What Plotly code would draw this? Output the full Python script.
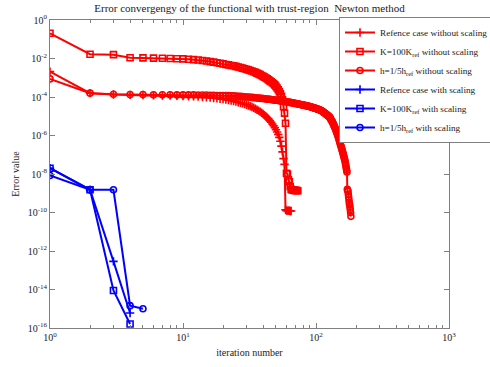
import plotly.graph_objects as go

# ---- data: log10 of the error value at iteration 1, 2, 3, ... ----
ref_noscale_log10 = [
    -2.68, -3.80, -3.87, -3.89, -3.90, -3.91, -3.92, -3.93, -3.94, -3.95,
    -3.96, -3.97, -3.98, -4.00, -4.01, -4.03, -4.05, -4.07, -4.09, -4.11,
    -4.13, -4.16, -4.18, -4.21, -4.24, -4.27, -4.30, -4.33, -4.37, -4.40,
    -4.44, -4.48, -4.52, -4.56, -4.61, -4.66, -4.71, -4.76, -4.82, -4.88,
    -4.94, -5.01, -5.08, -5.15, -5.23, -5.31, -5.40, -5.49, -5.59, -5.70,
    -5.82, -5.95, -6.10, -6.30, -6.55, -6.85, -7.20, -7.50, -9.86, -9.90,
    -9.90, -9.90, -9.91, -9.92, -9.92,
]

k100_noscale_log10 = [
    -0.69, -1.78, -1.80, -1.96, -1.97, -1.98, -1.99, -2.00, -2.01, -2.02,
    -2.04, -2.06, -2.08, -2.10, -2.13, -2.16, -2.19, -2.22, -2.25, -2.28,
    -2.31, -2.33, -2.36, -2.38, -2.41, -2.44, -2.47, -2.50, -2.53, -2.56,
    -2.59, -2.62, -2.65, -2.69, -2.72, -2.76, -2.80, -2.84, -2.88, -2.93,
    -2.97, -3.01, -3.06, -3.11, -3.16, -3.21, -3.26, -3.31, -3.37, -3.45,
    -3.53, -3.62, -3.72, -3.83, -3.96, -4.15, -4.50, -4.84, -5.36, -7.96,
    -8.00, -8.30, -8.40, -8.65, -8.80, -8.82, -8.83, -8.84, -8.85, -8.85,
    -8.86, -8.86, -8.87,
]

h5_noscale_log10 = [
    -3.06, -3.80, -3.86, -3.87, -3.87, -3.88, -3.88, -3.88, -3.89, -3.89,
    -3.89, -3.89, -3.90, -3.90, -3.90, -3.91, -3.91, -3.92, -3.92, -3.93,
    -3.93, -3.93, -3.94, -3.94, -3.95, -3.96, -3.97, -3.98, -3.99, -4.00,
    -4.00, -4.01, -4.02, -4.03, -4.04, -4.05, -4.06, -4.07, -4.07, -4.08,
    -4.09, -4.10, -4.11, -4.12, -4.12, -4.13, -4.14, -4.15, -4.16, -4.17,
    -4.17, -4.18, -4.19, -4.20, -4.21, -4.22, -4.23, -4.23, -4.24, -4.25,
    -4.26, -4.27, -4.28, -4.28, -4.29, -4.30, -4.31, -4.32, -4.33, -4.34,
    -4.34, -4.35, -4.36, -4.37, -4.38, -4.39, -4.39, -4.40, -4.41, -4.42,
    -4.43, -4.43, -4.44, -4.45, -4.46, -4.47, -4.47, -4.48, -4.49, -4.50,
    -4.51, -4.52, -4.53, -4.54, -4.55, -4.56, -4.57, -4.58, -4.59, -4.60,
    -4.61, -4.62, -4.63, -4.64, -4.65, -4.66, -4.67, -4.69, -4.70, -4.72,
    -4.73, -4.75, -4.77, -4.79, -4.81, -4.83, -4.85, -4.87, -4.89, -4.91,
    -4.93, -4.95, -4.97, -4.99, -5.01, -5.03, -5.06, -5.10, -5.14, -5.18,
    -5.22, -5.26, -5.30, -5.35, -5.40, -5.45, -5.50, -5.55, -5.60, -5.65,
    -5.70, -5.76, -5.82, -5.88, -5.94, -6.00, -6.06, -6.13, -6.20, -6.27,
    -6.34, -6.41, -6.48, -6.55, -6.61, -6.67, -6.74, -6.81, -6.88, -6.95,
    -7.02, -7.09, -7.16, -7.23, -7.30, -7.40, -7.50, -7.60, -7.70, -7.80,
    -7.90, -8.80, -8.85, -8.90, -9.05, -9.20, -9.35, -9.50, -9.60, -9.70,
    -9.85, -10.00, -10.20,
]

ref_scale_log10 = [-7.70, -8.82, -12.54, -15.22]
k100_scale_log10 = [-7.70, -8.82, -14.05, -15.79]
h5_scale_log10 = [-8.08, -8.82, -8.82, -14.84, -15.00]

series_names = [
    "Refence case without scaling",
    "K=100K<sub>ref</sub> without scaling",
    "h=1/5h<sub>ref</sub> without scaling",
    "Refence case with scaling",
    "K=100K<sub>ref</sub> with scaling",
    "h=1/5h<sub>ref</sub> with scaling",
]

x_tick_vals = [1, 10, 100, 1000]
x_tick_text = ["10<sup>0</sup>", "10<sup>1</sup>", "10<sup>2</sup>", "10<sup>3</sup>"]
y_tick_exps = [0, -2, -4, -6, -8, -10, -12, -14, -16]

# ---- figure ----
RED = "rgb(255,0,0)"
BLUE = "rgb(0,0,255)"
FONT = "Liberation Serif"
AXIS = "#808080"
TXT = "#222222"

series = [
    (ref_noscale_log10, RED, "cross-thin-open"),
    (k100_noscale_log10, RED, "square-open"),
    (h5_noscale_log10, RED, "circle-open"),
    (ref_scale_log10, BLUE, "cross-thin-open"),
    (k100_scale_log10, BLUE, "square-open"),
    (h5_scale_log10, BLUE, "circle-open"),
]

fig = go.Figure()
for (vals, col, sym), name in zip(series, series_names):
    fig.add_trace(go.Scatter(
        x=list(range(1, len(vals) + 1)),
        y=[10 ** v for v in vals],
        mode="lines+markers",
        name=name,
        line=dict(color=col, width=2),
        marker=dict(symbol=sym, size=6, color=col,
                    line=dict(color=col, width=1.6)),
    ))

minor_x = [m * 10 ** d for d in range(3) for m in range(2, 10)]

fig.update_layout(
    width=490, height=367,
    margin=dict(l=50, r=41, t=20, b=39, autoexpand=False),
    paper_bgcolor="white", plot_bgcolor="white",
    font=dict(family=FONT, size=10, color=TXT),
    title=dict(
        text="Error convergengy of the functional with trust-region\u00a0 Newton method",
        x=0.5, xref="paper", xanchor="center",
        y=1 - 8 / 367, yref="container", yanchor="middle",
        font=dict(family=FONT, size=11, color=TXT),
    ),
    showlegend=True,
    legend=dict(
        x=(339 - 50) / 399, y=(328 - 17) / 308, xanchor="left", yanchor="top",
        bgcolor="white", bordercolor=AXIS, borderwidth=1,
        font=dict(family=FONT, size=9.2, color=TXT),
        itemwidth=30, tracegroupgap=0,
    ),
    xaxis=dict(
        type="log", range=[0, 3], automargin=False,
        tickmode="array", tickvals=x_tick_vals, ticktext=x_tick_text,
        ticks="inside", ticklen=5, tickcolor=AXIS, tickwidth=1,
        showline=True, linecolor=AXIS, linewidth=1, mirror="allticks",
        showgrid=False, zeroline=False,
        minor=dict(ticks="inside", ticklen=3, tickcolor=AXIS,
                   tickmode="array", tickvals=minor_x, showgrid=False),
        title=dict(text="iteration number", standoff=6,
                   font=dict(family=FONT, size=10, color=TXT)),
        tickfont=dict(family=FONT, size=10, color=TXT),
    ),
    yaxis=dict(
        type="log", range=[-16, 0], automargin=False,
        tickmode="array",
        tickvals=[10.0 ** e for e in y_tick_exps],
        ticktext=["10<sup>%d</sup>" % e for e in y_tick_exps],
        ticks="inside", ticklen=5, tickcolor=AXIS, tickwidth=1,
        showline=True, linecolor=AXIS, linewidth=1, mirror="allticks",
        showgrid=False, zeroline=False,
        title=dict(text="Error value", standoff=6,
                   font=dict(family=FONT, size=10, color=TXT)),
        tickfont=dict(family=FONT, size=10, color=TXT),
    ),
)

fig.write_html("out.html")
